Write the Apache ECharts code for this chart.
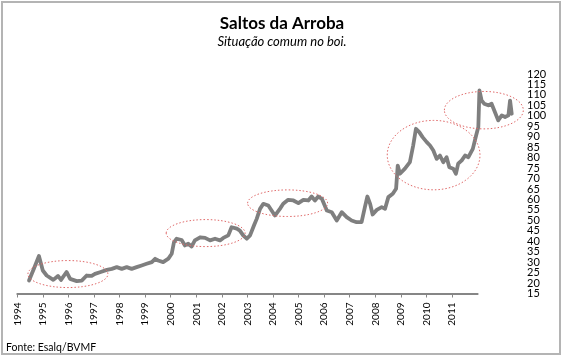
<!DOCTYPE html>
<html>
<head>
<meta charset="utf-8">
<script src="https://cdn.jsdelivr.net/npm/echarts@6/dist/echarts.min.js"></script>
<style>
html,body{margin:0;padding:0;background:#fff;}
#c{width:564px;height:359px;}
</style>
</head>
<body>
<div id="c"></div>
<script>
// Tick labels on the visible time axis (last slot is the axis end, unlabeled)
const yearLabels = ['1994','1995','1996','1997','1998','1999','2000','2001','2002','2003','2004','2005','2006','2007','2008','2009','2010','2011',''];
// Value-axis tick labels
const priceTicks = [15,20,25,30,35,40,45,50,55,60,65,70,75,80,85,90,95,100,105,110,115,120];
// Price series (decimal year, R$/arroba)
const dates = [1994.50,1994.68,1994.86,1995.00,1995.14,1995.38,1995.55,1995.66,1995.86,1995.99,1996.23,1996.41,1996.59,1996.77,1996.89,1997.07,1997.32,1997.50,1997.68,1997.86,1998.04,1998.22,1998.40,1998.58,1998.76,1998.95,1999.07,1999.18,1999.36,1999.55,1999.67,1999.75,1999.85,2000.03,2000.15,2000.27,2000.39,2000.51,2000.70,2000.88,2001.06,2001.24,2001.42,2001.54,2001.72,2001.84,2002.03,2002.14,2002.26,2002.39,2002.51,2002.65,2002.75,2002.87,2002.99,2003.17,2003.29,2003.41,2003.59,2003.71,2003.89,2004.08,2004.26,2004.44,2004.62,2004.74,2004.86,2004.98,2005.11,2005.29,2005.47,2005.65,2005.83,2006.01,2006.19,2006.37,2006.55,2006.67,2006.76,2006.86,2006.95,2007.10,2007.28,2007.40,2007.52,2007.68,2007.80,2007.86,2007.94,2008.12,2008.30,2008.42,2008.52,2008.64,2008.76,2008.91,2009.03,2009.15,2009.27,2009.39,2009.51,2009.63,2009.73,2009.87,2009.97,2010.05,2010.18,2010.30,2010.42,2010.58,2010.70,2010.78,2010.82,2010.90,2010.99,2011.14,2011.26,2011.38,2011.50,2011.63,2011.75,2011.87,2011.93,2011.99];
const prices = [21.2,27.0,32.9,26.0,23.6,21.5,23.4,21.5,25.3,22.0,20.9,21.2,23.6,23.4,24.4,25.2,26.3,26.8,27.6,26.8,27.6,26.8,27.6,28.4,29.2,30.0,31.6,30.8,30.0,31.7,34.0,39.4,41.2,40.6,38.0,38.8,37.5,40.4,41.9,41.6,40.4,41.2,40.4,41.6,42.8,46.7,46.0,45.1,42.8,41.2,42.8,47.5,50.7,55.5,57.9,57.1,54.7,52.3,55.5,57.9,59.8,59.5,58.2,59.8,59.5,61.4,59.5,61.4,60.3,54.7,53.9,49.9,53.9,51.5,49.9,49.1,49.1,56.3,61.4,57.9,52.8,55.0,56.3,55.5,61.1,62.7,65.1,76.2,72.3,74.7,77.8,85.8,93.8,92.2,89.8,87.4,85.8,83.4,79.4,81.0,77.8,80.2,75.4,74.7,72.3,77.1,78.7,81.0,80.2,84.2,90.6,94.6,112.1,107.3,105.8,105.0,105.8,101.8,97.8,100.2,99.4,100.2,107.3,101.0];
// Highlight ellipses (centre year, centre value, half-width in years, half-height in value)
const ellipseCenterYears = [1995.91, 2000.90, 2003.87, 2009.16, 2010.98];
const ellipseCenterValues = [24.3, 43.9, 58.2, 81.2, 102.7];
const ellipseHalfYears = [1.45, 1.43, 1.45, 1.68, 1.43];
const ellipseHalfValues = [6.46, 6.46, 6.36, 16.6, 8.95];

const chart = echarts.init(document.getElementById('c'), null, {renderer:'canvas'});
const FONT = 'Lato';
const lastIdx = yearLabels.length - 1;
const option = {
  animation:false,
  backgroundColor:'#ffffff',
  title:[
    {text:'Saltos da Arroba', left:'center', top:15, padding:0, textStyle:{fontFamily:FONT, fontWeight:'bold', fontSize:17, color:'#000'}},
    {text:'Situação comum no boi.', left:'center', top:35, padding:0, textStyle:{fontFamily:FONT, fontStyle:'italic', fontWeight:'normal', fontSize:13, color:'#000'}},
    {text:'Fonte: Esalq/BVMF', left:6, top:342, padding:0, textStyle:{fontFamily:FONT, fontWeight:'normal', fontSize:10.5, color:'#000'}}
  ],
  grid:[
    {left:17.3, top:74, width:460.3, height:219.5},
    {left:17, top:74, width:503, height:219.5}
  ],
  xAxis:[
    {gridIndex:0, type:'category', data:yearLabels, boundaryGap:false,
     axisLine:{show:true, lineStyle:{color:'#868686', width:2}},
     axisTick:{show:true, length:4, interval:(i)=>i<lastIdx, lineStyle:{color:'#868686', width:1}},
     axisLabel:{show:true, interval:0, rotate:90, margin:9, fontFamily:FONT, fontSize:10, color:'#000'},
     splitLine:{show:false}},
    {gridIndex:1, type:'value', min:1994.065, max:2012.29, show:false, splitLine:{show:false}}
  ],
  yAxis:[
    {gridIndex:0, type:'value', min:15, max:120, show:false, splitLine:{show:false}},
    {gridIndex:1, type:'value', position:'right', min:15, max:120, interval:5,
     axisLine:{show:false}, axisTick:{show:false}, splitLine:{show:false}, axisLabel:{show:false}}
  ],
  series:[
    {type:'line', xAxisIndex:1, yAxisIndex:1, data:dates.map((d,i)=>[d, prices[i]]),
     symbol:'none', lineStyle:{color:'#7f7f7f', width:3.8, cap:'round', join:'round'}, clip:false}
  ]
};
chart.setOption(option);

const graphics = [
  {type:'rect', shape:{x:2, y:2, width:558, height:352}, style:{fill:'none', stroke:'#b4b4b4', lineWidth:2}, z:100}
];
// value labels on the right side, positioned through the value axis
const gridRight = chart.convertToPixel({xAxisIndex:1, yAxisIndex:1}, [2012.29, 15])[0];
priceTicks.forEach(v => {
  const p = chart.convertToPixel({xAxisIndex:1, yAxisIndex:1}, [2012.29, v]);
  graphics.push({type:'text', x:gridRight + 7, y:p[1],
    style:{text:String(v), x:0, y:0, align:'left', verticalAlign:'middle', fontFamily:FONT, fontSize:11, lineHeight:10, fill:'#000'}, z:60});
});
for (let i = 0; i < ellipseCenterYears.length; i++) {
  const c = chart.convertToPixel({xAxisIndex:1, yAxisIndex:1}, [ellipseCenterYears[i], ellipseCenterValues[i]]);
  const e = chart.convertToPixel({xAxisIndex:1, yAxisIndex:1}, [ellipseCenterYears[i] + ellipseHalfYears[i], ellipseCenterValues[i] + ellipseHalfValues[i]]);
  graphics.push({type:'ellipse', shape:{cx:c[0], cy:c[1], rx:Math.abs(e[0]-c[0]), ry:Math.abs(c[1]-e[1])},
    style:{fill:'none', stroke:'#e06a6a', lineWidth:1, lineDash:[1.5,2]}, z:50});
}
chart.setOption({graphic:graphics});
</script>
</body>
</html>
